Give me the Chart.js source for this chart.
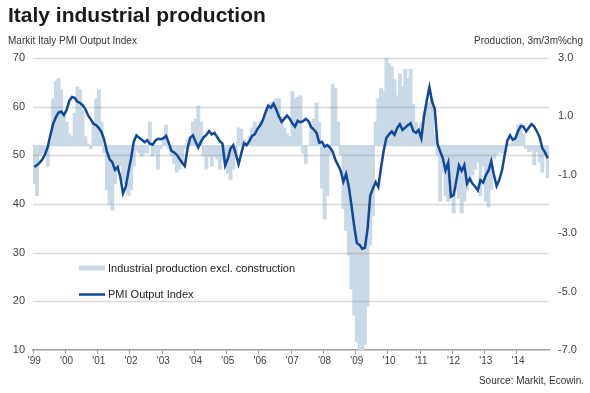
<!DOCTYPE html>
<html>
<head>
<meta charset="utf-8">
<script src="https://cdn.jsdelivr.net/npm/chart.js@4"></script>
<style>
  html, body { margin: 0; padding: 0; background: #fff; }
  #wrap { position: relative; width: 590px; height: 393px; font-family: "Liberation Sans", Arial, sans-serif; color: #333; }
  #chart { position: absolute; left: 0; top: 0; }
  .txt { position: absolute; white-space: nowrap; }
  #title { left: 8px; top: 3px; font-size: 21px; font-weight: bold; color: #1a1a1a; }
  #subL { left: 8px; top: 35px; font-size: 10px; }
  #subR { right: 7px; top: 35px; font-size: 10px; }
  #source { right: 6px; top: 375px; font-size: 10px; }
</style>
</head>
<body>
<div id="wrap">
  <canvas id="chart" width="590" height="393"></canvas>
  <div class="txt" id="title">Italy industrial production</div>
  <div class="txt" id="subL">Markit Italy PMI Output Index</div>
  <div class="txt" id="subR">Production, 3m/3m%chg</div>
  <div class="txt" id="source">Source: Markit, Ecowin.</div>
</div>
<script>
// monthly, Jan 1999 .. Dec 2014
const years = ['99', '00', '01', '02', '03', '04', '05', '06', '07', '08', '09', '10', '11', '12', '13', '14'];

// Markit Italy PMI Output Index (left axis)
const pmiOutput = [
  47.6, 48.0, 48.5, 49.2, 50.2, 51.8, 54.2, 56.5, 57.8, 58.8, 59.0, 58.3,
  59.3, 61.2, 62.0, 61.8, 61.0, 60.8, 60.3, 59.5, 58.2, 57.4, 56.5, 56.2,
  55.6, 54.8, 53.2, 50.8, 49.2, 48.6, 47.0, 47.6, 45.5, 42.2, 43.5, 46.6,
  49.4, 52.8, 54.1, 53.6, 53.2, 52.7, 53.1, 52.4, 52.2, 53.0, 53.4, 53.3,
  53.5, 54.0, 52.6, 50.9, 50.6, 50.1, 49.3, 48.5, 47.8, 51.4, 53.6, 54.1,
  52.8, 51.6, 52.8, 53.7, 54.2, 55.0, 54.3, 54.6, 53.8, 52.9, 52.4, 47.9,
  49.3, 51.4, 52.1, 50.2, 48.2, 50.4, 52.5, 52.1, 52.9, 54.0, 54.3, 55.4,
  56.1, 57.2, 58.8, 60.2, 59.8, 60.6, 59.4, 58.0, 56.9, 57.5, 58.2, 57.5,
  56.6, 55.9, 57.1, 56.8, 57.0, 57.5, 57.0, 55.8, 55.3, 54.6, 52.6, 52.8,
  51.8, 52.1, 51.6, 50.8, 49.1, 48.0, 46.8, 44.6, 46.2, 43.6, 39.7, 35.5,
  32.0, 31.6, 30.8, 31.0, 35.0, 41.8, 43.2, 44.5, 43.5, 47.5, 51.0, 53.6,
  54.3, 54.9, 54.2, 55.6, 56.4, 55.2, 55.7, 56.2, 56.6, 55.0, 54.6, 55.2,
  53.5, 58.0, 61.2, 64.0, 61.0, 59.5, 52.4, 50.8, 49.4, 46.9, 48.5, 41.5,
  41.8, 44.7, 47.9, 46.8, 48.0, 44.2, 45.2, 44.2, 43.6, 42.8, 44.9, 44.4,
  45.9, 46.9, 48.8, 46.0, 43.7, 45.0, 46.9, 50.0, 53.0, 54.1, 53.2, 53.5,
  55.0, 56.0, 55.9, 54.9, 55.7, 56.4, 55.9, 54.9, 53.8, 51.5, 50.6, 49.4
];

// Industrial production excl. construction, 3m/3m % change (right axis)
const indProd = [
  -1.3, -1.7, -0.3, -0.25, -0.2, -0.7, 0.1, 1.6, 2.2, 2.3, 1.9, 1.0,
  0.8, 0.4, 0.3, 1.1, 2.0, 1.9, 1.2, 0.3, 0.05, -0.1, 0.8, 1.6,
  1.9, 0.8, -0.25, -1.5, -2.0, -2.2, -1.3, -0.9, -0.7, -1.2, -1.3, -1.7,
  -1.5, -0.7, -0.15, -0.25, -0.35, -0.25, -0.25, 0.8, -0.35, -0.25, -0.8, -0.1,
  0.2, 0.7, -0.1, -0.35, -0.6, -0.9, -0.8, -0.5, -0.1, 0.2, 0.3, 0.8,
  0.9, 1.35, 0.8, -0.35, -0.8, -0.35, -0.7, -0.35, -0.45, -0.8, -0.5, -0.6,
  -0.95, -1.15, -0.8, -0.35, 0.6, 0.55, 0.2, 0.1, 0.3, 0.6, 0.8, 0.65,
  0.8, 0.85, 1.05, 1.25, 1.45, 1.5, 1.6, 1.6, 1.0, 0.6, 0.4, 0.3,
  1.85, 1.6, 1.65, 1.7, -0.25, -0.6, 0.0, 0.8, 0.9, 1.45, 0.8, -1.45,
  -2.5, -1.7, -0.3, 2.1, 1.95, 0.8, -0.3, -2.15, -2.9, -3.75, -4.9, -5.8,
  -6.7, -7.0, -7.0, -6.8, -5.5, -3.4, -2.4, 0.8, 1.6, 1.95, 1.85, 3.0,
  2.8, 2.7, 2.25, 1.7, 2.45, 2.0, 2.6, 2.3, 2.6, 1.4, 0.8, 0.5,
  0.8, 1.15, 1.4, 1.45, 1.6, 0.35, -0.3, -1.9, -0.9, -1.7, -1.9, -1.7,
  -2.3, -1.5, -1.8, -2.3, -1.9, -1.5, -1.2, -1.0, -0.8, -0.55, -1.7, -0.7,
  -1.9, -2.1, -1.5, -0.45, -0.3, -0.2, -0.25, -0.1, 0.0, 0.05, 0.1, 0.3,
  0.7, 0.75, 0.4, -0.1, -0.2, -0.15, -0.65, -0.2, -0.55, -0.9, -0.3, -1.1
];

const leftTicks = { min: 10, max: 70, step: 10 };
const rightTicks = { min: -7, max: 3, step: 2 };

const BAR = '#c9d9e6';
const LINE = '#10479a';
const GRID = 'rgba(140, 140, 140, 0.33)';

// category per month, label only on January
const months = [];
const tickLabels = [];
years.forEach(y => {
  for (let m = 1; m <= 12; m++) {
    months.push(y + '-' + m);
    tickLabels.push(m === 1 ? "'" + y : '');
  }
});

// horizontal grid drawn after the bars, before the line
const gridOverBars = {
  id: 'gridOverBars',
  beforeDatasetDraw(chart, args) {
    if (args.index !== 0) return;
    const { ctx, chartArea } = chart;
    const y = chart.scales.y;
    ctx.save();
    ctx.strokeStyle = GRID;
    ctx.lineWidth = 1.5;
    y.ticks.forEach(t => {
      if (t.value === leftTicks.min) return;
      const py = Math.round(y.getPixelForValue(t.value)) + 0.5;
      ctx.beginPath();
      ctx.moveTo(chartArea.left, py);
      ctx.lineTo(chartArea.right, py);
      ctx.stroke();
    });
    ctx.restore();
  }
};

const legendInside = {
  id: 'legendInside',
  afterDatasetsDraw(chart) {
    const ctx = chart.ctx;
    ctx.save();
    ctx.font = '11px "Liberation Sans", Arial, sans-serif';
    ctx.textBaseline = 'middle';
    ctx.fillStyle = BAR;
    ctx.fillRect(79, 265.5, 26, 5);
    ctx.fillStyle = '#222';
    ctx.fillText('Industrial production excl. construction', 108, 268.5);
    ctx.strokeStyle = LINE;
    ctx.lineWidth = 2.5;
    ctx.beginPath();
    ctx.moveTo(79, 294.5);
    ctx.lineTo(105, 294.5);
    ctx.stroke();
    ctx.fillText('PMI Output Index', 108, 294.5);
    ctx.restore();
  }
};

new Chart(document.getElementById('chart'), {
  data: {
    labels: months,
    datasets: [
      {
        type: 'line',
        label: 'PMI Output Index',
        data: pmiOutput,
        yAxisID: 'y',
        borderColor: LINE,
        borderWidth: 2.5,
        pointRadius: 0,
        tension: 0,
        order: 0
      },
      {
        type: 'bar',
        label: 'Industrial production excl. construction',
        data: indProd,
        yAxisID: 'y2',
        backgroundColor: BAR,
        borderWidth: 0,
        inflateAmount: 0.6,
        barPercentage: 1,
        categoryPercentage: 1,
        order: 1
      }
    ]
  },
  plugins: [gridOverBars, legendInside],
  options: {
    responsive: false,
    animation: false,
    layout: { padding: { top: 58, left: 0, right: 0, bottom: 0 } },
    plugins: { legend: { display: false }, tooltip: { enabled: false } },
    scales: {
      x: {
        type: 'category',
        offset: true,
        grid: {
          drawOnChartArea: false,
          drawTicks: true,
          tickLength: 4,
          offset: true,
          color: c => (c.index % 12 === 0 ? '#9a9a9a' : 'rgba(0,0,0,0)')
        },
        border: { display: true, color: '#a0a0a0', width: 1.5 },
        ticks: {
          autoSkip: false,
          maxRotation: 0,
          padding: 1,
          color: '#404040',
          font: { family: '"Liberation Sans", Arial, sans-serif', size: 10 },
          callback: (v, i) => tickLabels[i]
        },
        afterFit: s => { s.height = 43; }
      },
      y: {
        position: 'left',
        min: leftTicks.min,
        max: leftTicks.max,
        ticks: {
          stepSize: leftTicks.step,
          padding: 8,
          color: '#404040',
          font: { family: '"Liberation Sans", Arial, sans-serif', size: 11 }
        },
        grid: { drawOnChartArea: false, drawTicks: false },
        border: { display: false },
        afterFit: s => { s.width = 33; }
      },
      y2: {
        position: 'right',
        min: rightTicks.min,
        max: rightTicks.max,
        ticks: {
          stepSize: rightTicks.step,
          padding: 9,
          color: '#404040',
          font: { family: '"Liberation Sans", Arial, sans-serif', size: 11 },
          callback: v => v.toFixed(1)
        },
        grid: { display: false, drawTicks: false },
        border: { display: false },
        afterFit: s => { s.width = 41; }
      }
    }
  }
});
</script>
</body>
</html>
